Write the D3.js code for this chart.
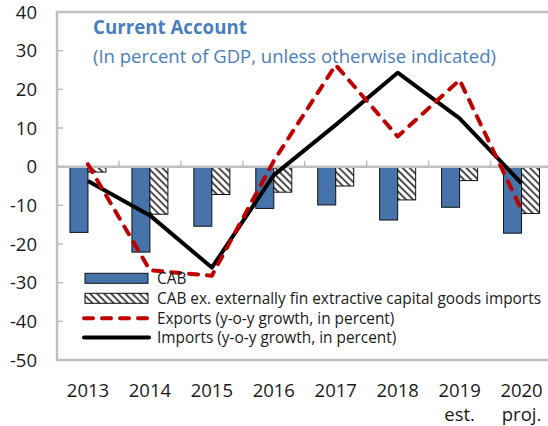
<!DOCTYPE html>
<html>
<head>
<meta charset="utf-8">
<script src="https://cdnjs.cloudflare.com/ajax/libs/d3/7.8.5/d3.min.js"></script>
<style>
  body { margin: 0; background: #fff; }
  svg { display: block; font-family: "Open Sans", "Noto Sans", sans-serif; }
</style>
</head>
<body>
<svg id="chart" width="548" height="426"></svg>
<script>
/*global d3*/

// data
var years = ["2013", "2014", "2015", "2016", "2017", "2018", "2019", "2020"];
var yearNotes = ["", "", "", "", "", "", "est.", "proj."];
var cab = [-17.0, -22.1, -15.4, -10.8, -9.9, -13.8, -10.5, -17.2];
var cabEx = [-1.4, -12.3, -7.2, -6.6, -5.0, -8.6, -3.6, -12.1];
var exportsGr = [0.6, -26.8, -28.2, 1.5, 26.3, 7.8, 22.4, -11.2];
var importsGr = [-3.7, -12.6, -26.1, -2.2, 10.8, 24.3, 12.5, -4.3];
var yTicks = [40, 30, 20, 10, 0, -10, -20, -30, -40, -50];
var legendLabels = [
  "CAB",
  "CAB ex. externally fin extractive capital goods imports",
  "Exports (y-o-y growth, in percent)",
  "Imports (y-o-y growth, in percent)"
];

var blue = "#4673aa";
var red = "#c00000";
var grey = "#bfbfbf";

var svg = d3.select("#chart");

var x = d3.scaleBand().domain(years).range([57, 552.5]).padding(0);
var y = d3.scaleLinear().domain([-50, 40]).range([360, 12]);
var barW = 18;

// hatch pattern for the second bar series
var defs = svg.append("defs");
var pat = defs.append("pattern")
  .attr("id", "hatch")
  .attr("patternUnits", "userSpaceOnUse")
  .attr("width", 5)
  .attr("height", 5)
  .attr("patternTransform", "rotate(-45)");
pat.append("rect").attr("width", 5).attr("height", 5).attr("fill", "#fff");
pat.append("rect").attr("x", 0).attr("width", 2).attr("height", 5).attr("fill", "#4d4d4d");

// frame
svg.append("rect")
  .attr("x", 57)
  .attr("y", 12)
  .attr("width", 495.5)
  .attr("height", 348)
  .attr("fill", "none")
  .attr("stroke", grey)
  .attr("stroke-width", 2.5);

// y ticks (inside) and labels
svg.append("g").selectAll("line")
  .data(yTicks)
  .join("line")
  .attr("x1", 57)
  .attr("x2", 63)
  .attr("y1", function(d) { return y(d); })
  .attr("y2", function(d) { return y(d); })
  .attr("stroke", grey)
  .attr("stroke-width", 1.5);

svg.append("g").selectAll("text")
  .data(yTicks)
  .join("text")
  .attr("x", 37)
  .attr("y", function(d) { return y(d) + 6.5; })
  .attr("text-anchor", "end")
  .attr("font-size", 18.5)
  .attr("fill", "#1a1a1a")
  .text(function(d) { return d; });

// title
svg.append("text")
  .attr("x", 93)
  .attr("y", 34)
  .attr("font-size", 18.7)
  .attr("font-weight", "bold")
  .attr("fill", "#4a7ebb")
  .text("Current Account");
svg.append("text")
  .attr("x", 93)
  .attr("y", 63)
  .attr("font-size", 18.5)
  .attr("fill", "#4a7ebb")
  .text("(In percent of GDP, unless otherwise indicated)");

// bars
svg.append("g").selectAll("rect")
  .data(cab)
  .join("rect")
  .attr("x", function(d, i) { return x(years[i]) + x.bandwidth() / 2 - barW; })
  .attr("y", function(d) { return y(Math.max(0, d)); })
  .attr("width", barW)
  .attr("height", function(d) { return Math.abs(y(d) - y(0)); })
  .attr("fill", blue)
  .attr("stroke", "#111")
  .attr("stroke-width", 1);

svg.append("g").selectAll("rect")
  .data(cabEx)
  .join("rect")
  .attr("x", function(d, i) { return x(years[i]) + x.bandwidth() / 2; })
  .attr("y", function(d) { return y(Math.max(0, d)); })
  .attr("width", barW)
  .attr("height", function(d) { return Math.abs(y(d) - y(0)); })
  .attr("fill", "url(#hatch)")
  .attr("stroke", "#111")
  .attr("stroke-width", 1);

// zero line with category ticks
svg.append("line")
  .attr("x1", 57)
  .attr("x2", 552.5)
  .attr("y1", y(0))
  .attr("y2", y(0))
  .attr("stroke", grey)
  .attr("stroke-width", 2.5);

svg.append("g").selectAll("line")
  .data(years.slice(1))
  .join("line")
  .attr("x1", function(d) { return x(d); })
  .attr("x2", function(d) { return x(d); })
  .attr("y1", y(0))
  .attr("y2", y(0) - 6)
  .attr("stroke", grey)
  .attr("stroke-width", 1.5);

// lines
var line = d3.line()
  .x(function(d, i) { return x(years[i]) + x.bandwidth() / 2; })
  .y(function(d) { return y(d); });

svg.append("path")
  .attr("d", line(importsGr))
  .attr("fill", "none")
  .attr("stroke", "#000")
  .attr("stroke-width", 4)
  .attr("stroke-linejoin", "round");

svg.append("path")
  .attr("d", line(exportsGr))
  .attr("fill", "none")
  .attr("stroke", red)
  .attr("stroke-width", 4)
  .attr("stroke-linejoin", "round")
  .attr("stroke-linecap", "round")
  .attr("stroke-dasharray", "9,9");

// x labels
svg.append("g").selectAll("text")
  .data(years)
  .join("text")
  .attr("x", function(d) { return x(d) + x.bandwidth() / 2; })
  .attr("y", 397)
  .attr("text-anchor", "middle")
  .attr("font-size", 18.5)
  .attr("fill", "#1a1a1a")
  .text(function(d) { return d; });

svg.append("g").selectAll("text")
  .data(yearNotes)
  .join("text")
  .attr("x", function(d, i) { return x(years[i]) + x.bandwidth() / 2; })
  .attr("y", 421)
  .attr("text-anchor", "middle")
  .attr("font-size", 18.5)
  .attr("fill", "#1a1a1a")
  .text(function(d) { return d; });

// legend
var legY = [278.3, 298.3, 318.3, 337.5];
var leg = svg.append("g");
leg.append("rect")
  .attr("x", 85).attr("y", legY[0] - 5).attr("width", 63).attr("height", 10)
  .attr("fill", blue).attr("stroke", "#111").attr("stroke-width", 1);
leg.append("rect")
  .attr("x", 85).attr("y", legY[1] - 5).attr("width", 63).attr("height", 10)
  .attr("fill", "url(#hatch)").attr("stroke", "#111").attr("stroke-width", 1);
leg.append("line")
  .attr("x1", 84).attr("x2", 149).attr("y1", legY[2]).attr("y2", legY[2])
  .attr("stroke", red).attr("stroke-width", 4)
  .attr("stroke-linecap", "round").attr("stroke-dasharray", "9,9");
leg.append("line")
  .attr("x1", 84).attr("x2", 149).attr("y1", legY[3]).attr("y2", legY[3])
  .attr("stroke", "#000").attr("stroke-width", 4).attr("stroke-linecap", "round");

leg.selectAll("text")
  .data(legendLabels)
  .join("text")
  .attr("x", 157)
  .attr("y", function(d, i) { return legY[i] + 5.5; })
  .attr("font-size", 15.4)
  .attr("fill", "#1a1a1a")
  .text(function(d) { return d; });
</script>
</body>
</html>
